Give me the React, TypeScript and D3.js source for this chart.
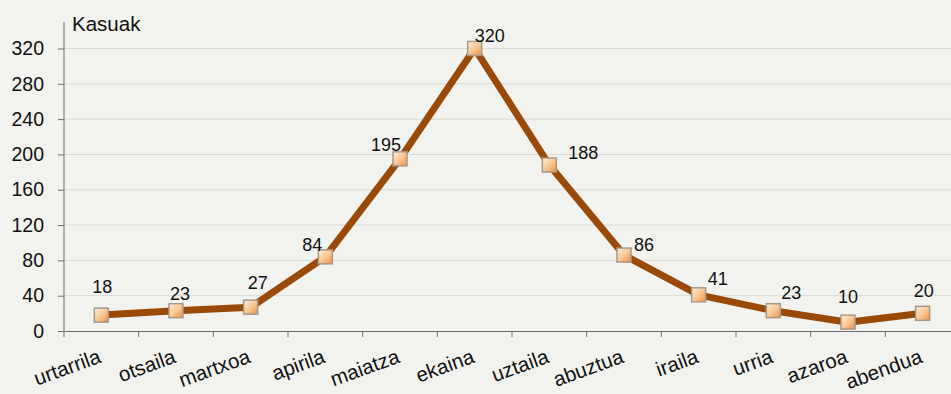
import React, { useEffect, useRef } from "react";
import * as d3 from "d3";

const months = [
  "urtarrila", "otsaila", "martxoa", "apirila", "maiatza", "ekaina",
  "uztaila", "abuztua", "iraila", "urria", "azaroa", "abendua",
];
const cases = [18, 23, 27, 84, 195, 320, 188, 86, 41, 23, 10, 20];
const yTicks = [0, 40, 80, 120, 160, 200, 240, 280, 320];
const yTitle = "Kasuak";

// label offsets relative to the point (dx, dy of baseline)
const LABEL_OFFSETS: [number, number][] = [
  [1, -22], [4, -11], [7, -18], [-13, -6], [-14, -8], [15, -6],
  [34, -6], [20, -4], [19, -10], [18, -12], [0, -19], [1, -16],
];

const WIDTH = 951;
const HEIGHT = 394;
const MARGIN = { TOP: 22, LEFT: 64, BOTTOM: 63 };
const PLOT_RIGHT = 960;
const FONT = "'Liberation Sans', Arial, sans-serif";

const Chart = () => {
  const svgRef = useRef<SVGSVGElement>(null);

  useEffect(() => {
    const svg = d3.select(svgRef.current);
    svg.selectAll("*").remove();

    const x = d3
      .scaleBand()
      .domain(months)
      .range([MARGIN.LEFT, PLOT_RIGHT]);
    const y = d3
      .scaleLinear()
      .domain([0, 350])
      .range([HEIGHT - MARGIN.BOTTOM, MARGIN.TOP]);
    const cx = (m: string) => (x(m) as number) + x.bandwidth() / 2;

    svg.append("rect").attr("width", WIDTH).attr("height", HEIGHT).attr("fill", "#f2f3ee");

    const defs = svg.append("defs");
    const grad = defs
      .append("linearGradient")
      .attr("id", "mk")
      .attr("x1", "0").attr("y1", "0").attr("x2", "1").attr("y2", "1");
    grad.append("stop").attr("offset", "0%").attr("stop-color", "#fff0dc");
    grad.append("stop").attr("offset", "55%").attr("stop-color", "#f8c48e");
    grad.append("stop").attr("offset", "100%").attr("stop-color", "#e88e48");

    // gridlines
    svg
      .append("g")
      .selectAll("line")
      .data(yTicks.filter((t) => t > 0))
      .join("line")
      .attr("x1", MARGIN.LEFT)
      .attr("x2", PLOT_RIGHT)
      .attr("y1", (d) => y(d))
      .attr("y2", (d) => y(d))
      .attr("stroke", "#d9dad5")
      .attr("stroke-width", 1);

    // y axis
    const yAxis = d3.axisLeft(y).tickValues(yTicks).tickSize(6).tickPadding(14);
    const gy = svg
      .append("g")
      .attr("transform", `translate(${MARGIN.LEFT},0)`)
      .call(yAxis);
    gy.select(".domain").remove();
    gy.append("line")
      .attr("x1", 0).attr("x2", 0)
      .attr("y1", MARGIN.TOP).attr("y2", HEIGHT - MARGIN.BOTTOM)
      .attr("stroke", "#6e6e6e");
    gy.selectAll(".tick line").attr("stroke", "#6e6e6e");
    gy.selectAll(".tick text")
      .attr("font-family", FONT)
      .attr("font-size", 19.5)
      .attr("fill", "#111");

    // x axis
    const xAxis = d3.axisBottom(x).tickSize(0).tickFormat(() => "");
    const gx = svg
      .append("g")
      .attr("transform", `translate(0,${HEIGHT - MARGIN.BOTTOM})`)
      .call(xAxis);
    gx.select(".domain").attr("stroke", "#6e6e6e");
    gx.selectAll(".tickmark")
      .data(months)
      .join("line")
      .attr("class", "tickmark")
      .attr("x1", (d) => x(d) as number)
      .attr("x2", (d) => x(d) as number)
      .attr("y1", 0)
      .attr("y2", 6)
      .attr("stroke", "#6e6e6e");
    gx.selectAll(".mlabel")
      .data(months)
      .join("text")
      .attr("class", "mlabel")
      .attr("text-anchor", "end")
      .attr("transform", (d) => `translate(${cx(d) + 1},${31}) rotate(-20)`)
      .attr("font-family", FONT)
      .attr("font-size", 20.5)
      .attr("fill", "#111")
      .text((d) => d);

    // title
    svg
      .append("text")
      .attr("x", 72)
      .attr("y", 31)
      .attr("font-family", FONT)
      .attr("font-size", 20.5)
      .attr("fill", "#111")
      .text(yTitle);

    const data = months.map((m, i) => ({ m, v: cases[i], i }));

    const line = d3
      .line<{ m: string; v: number }>()
      .x((d) => cx(d.m))
      .y((d) => y(d.v));

    svg
      .append("path")
      .datum(data)
      .attr("d", line)
      .attr("fill", "none")
      .attr("stroke", "#9a4a08")
      .attr("stroke-width", 7)
      .attr("stroke-linejoin", "round");

    const S = 14;
    svg
      .append("g")
      .selectAll("rect")
      .data(data)
      .join("rect")
      .attr("x", (d) => cx(d.m) - S / 2)
      .attr("y", (d) => y(d.v) - S / 2)
      .attr("width", S)
      .attr("height", S)
      .attr("fill", "url(#mk)")
      .attr("stroke", "#a89888")
      .attr("stroke-width", 1.5);

    svg
      .append("g")
      .selectAll("text")
      .data(data)
      .join("text")
      .attr("x", (d) => cx(d.m) + LABEL_OFFSETS[d.i][0])
      .attr("y", (d) => y(d.v) + LABEL_OFFSETS[d.i][1])
      .attr("text-anchor", "middle")
      .attr("font-family", FONT)
      .attr("font-size", 18)
      .attr("fill", "#111")
      .text((d) => d.v);
  }, []);

  return <svg ref={svgRef} width={WIDTH} height={HEIGHT} style={{ display: "block" }}></svg>;
};

export default function App() {
  return (
    <div style={{ position: "fixed", left: 0, top: 0 }}>
      <Chart />
    </div>
  );
}
